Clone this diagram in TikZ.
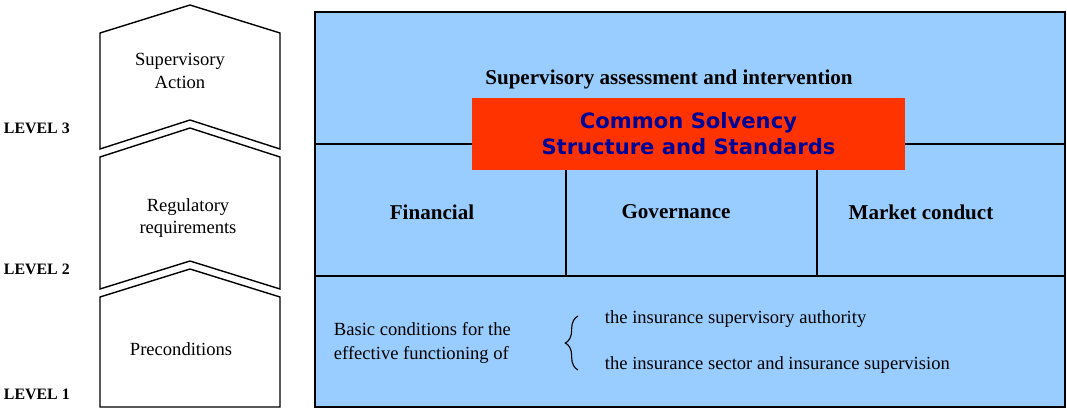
\documentclass[tikz,border=0pt]{standalone}
\usepackage{fontspec}
\setmainfont{Liberation Serif}
\newfontfamily\titlefont{DejaVu Sans}
\usepackage{tikz}
\usetikzlibrary{decorations.pathreplacing}

\begin{document}
\begin{tikzpicture}[x=0.025cm, y=-0.025cm]
    \definecolor{skyfill}{RGB}{153,204,255}  % Celeste
    \definecolor{redfill}{RGB}{255,51,0}     % Rojo
    \definecolor{navytext}{RGB}{0,0,153}     % Azul oscuro

    \tikzset{
      chevron/.style={draw, line width=1pt, fill=white},
      boxtext/.style={align=center, font=\fontsize{13.2}{16}\selectfont},
      bigtext/.style={font=\fontsize{15}{18}\selectfont\bfseries},
      leveltext/.style={anchor=west, font=\fontsize{11.3}{13}\selectfont\bfseries},
      smalltext/.style={anchor=west, align=left, font=\fontsize{13.2}{16.5}\selectfont}
    }

    \useasboundingbox (0,0) rectangle (1067,409);

    % left column
    \draw[chevron] (100,33) -- (190,5) -- (280,33) -- (280,149) -- (190,120) -- (100,149) -- cycle;
    \draw[chevron] (100,157) -- (190,128) -- (280,157) -- (280,289) -- (190,261) -- (100,289) -- cycle;
    \draw[chevron] (100,297) -- (190,269) -- (280,297) -- (280,407) -- (100,407) -- cycle;

    \node (action) at (180,71) [boxtext] {Supervisory\\Action};
    \node (rules) at (188,218) [boxtext] {Regulatory\\requirements};
    \node (precond) at (181,349) [boxtext] {Preconditions};

    \node (lvl3) at (-1,128) [leveltext] {LEVEL 3};
    \node (lvl2) at (-1,269) [leveltext] {LEVEL 2};
    \node (lvl1) at (-1,394) [leveltext] {LEVEL 1};

    % main block
    \draw[line width=1.2pt, fill=skyfill] (315,12) rectangle (1065,407);
    \draw[line width=1pt] (315,144) -- (1065,144);
    \draw[line width=1pt] (315,276) -- (1065,276);
    \draw[line width=1pt] (566,144) -- (566,276);
    \draw[line width=1pt] (817,144) -- (817,276);

    \node (assess) at (669,79) [bigtext] {Supervisory assessment and intervention};
    \node (core) at (688.5,134) [fill=redfill, minimum width=433*0.025cm, minimum height=72*0.025cm,
      align=center, text=navytext, font=\titlefont\fontsize{15}{18.5}\selectfont\bfseries]
      {Common Solvency\\Structure and Standards};

    \node (fin) at (432,212) [bigtext] {Financial};
    \node (gov) at (676,212) [bigtext] {Governance};
    \node (market) at (921,212) [bigtext] {Market conduct};

    \node (basic) at (329,343) [smalltext] {Basic conditions for the\\effective functioning of};
    \draw[line width=0.8pt, decorate, decoration={brace, amplitude=9pt}] (578,370) -- (578,316);
    \node (auth) at (600,319) [smalltext] {the insurance supervisory authority};
    \node (sector) at (600,365) [smalltext] {the insurance sector and insurance supervision};
  \end{tikzpicture}
\end{document}
